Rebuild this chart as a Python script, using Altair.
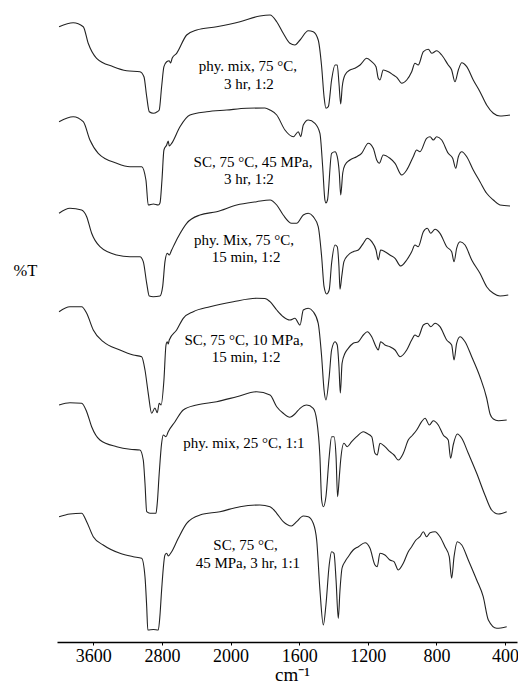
import altair as alt
import pandas as pd

# FTIR spectra: (wavenumber in cm-1, transmittance in arbitrary %T units)
S1 = [(4000, 100.3), (3835, 104.3), (3718, 100.3), (3660, 83.7), (3562, 68.7), (3368, 60.3),
      (3212, 56.3), (3057, 55.3), (3010, 50.3), (2978, 30.3), (2948, 15.3), (2902, 13.7),
      (2855, 15.3), (2832, 17), (2804, 40.3), (2777, 60.3), (2745, 65.3), (2715, 66.3),
      (2700, 64), (2680, 69), (2629, 73.7), (2512, 92), (2395, 97), (2162, 100.3),
      (1945, 105.3), (1829, 111), (1770, 112), (1731, 105.3), (1693, 93.7), (1654, 83.7),
      (1625, 82), (1595, 87), (1547, 96.3), (1518, 95.3), (1489, 87), (1469, 60.3),
      (1455, 30.3), (1444, 18.7), (1430, 20.3), (1411, 47), (1391, 62), (1378, 62),
      (1368, 43.7), (1358, 23), (1349, 40.3), (1333, 52), (1304, 57), (1275, 58.7),
      (1245, 62), (1206, 68.7), (1177, 65.3), (1152, 60.3), (1139, 48.7), (1129, 47),
      (1110, 57), (1080, 55.3), (1051, 52), (1031, 49.7), (1002, 43.7), (973, 47),
      (944, 55.3), (925, 63.7), (906, 62), (876, 75.3), (847, 77.7), (827, 73.7),
      (798, 76.3), (769, 72), (731, 62), (711, 57), (692, 45.3), (672, 57), (652, 64.3),
      (623, 60.3), (585, 47), (546, 35.3), (507, 22), (468, 13.7), (429, 11), (371, 12)]

S2 = [(4000, 95.3), (3835, 100.3), (3718, 95.3), (3640, 77), (3543, 63.7), (3328, 53.7),
      (3173, 50.3), (3037, 50.3), (2987, 37), (2960, 12), (2900, 13), (2843, 12), (2823, 14),
      (2800, 37), (2777, 67), (2745, 72), (2727, 76), (2715, 71), (2687, 73.7), (2590, 90.3),
      (2474, 102), (2279, 105.3), (2046, 107), (1906, 108.7), (1800, 109), (1770, 107),
      (1731, 102), (1683, 87), (1634, 80.3), (1605, 85.3), (1591, 80.3), (1576, 92),
      (1547, 97), (1508, 93.7), (1479, 83.7), (1463, 50.3), (1450, 17), (1444, 14),
      (1435, 17), (1411, 63.7), (1391, 65.3), (1378, 60.3), (1366, 43.7), (1358, 22),
      (1346, 44), (1333, 52), (1304, 57), (1265, 60.3), (1236, 63.7), (1197, 73.7),
      (1168, 68.7), (1148, 57), (1133, 53.7), (1110, 62), (1071, 58.7), (1041, 53.7),
      (1002, 42), (973, 47), (935, 60.3), (915, 67), (896, 65.3), (857, 78.7), (837, 80.3),
      (818, 77), (798, 80.3), (769, 77), (731, 63.7), (705, 58.7), (687, 48.7), (672, 60.3),
      (652, 65.3), (623, 60.3), (585, 47), (546, 35.3), (507, 23.7), (468, 17), (429, 12),
      (371, 11)]

S3 = [(4000, 93.7), (3873, 98.7), (3737, 97), (3678, 90.3), (3620, 73.7), (3523, 60.3),
      (3328, 52), (3173, 50.3), (3057, 50.3), (3018, 45.3), (2978, 23.7), (2948, 11),
      (2902, 10.3), (2823, 11), (2792, 20.3), (2765, 45.3), (2738, 53.7), (2715, 52),
      (2687, 57), (2610, 70.3), (2512, 83.7), (2357, 92), (2162, 95.3), (1964, 102),
      (1848, 105.3), (1770, 107), (1731, 102), (1693, 92), (1644, 83.7), (1615, 83.7),
      (1576, 92), (1547, 93.7), (1518, 90.3), (1489, 80.3), (1469, 50.3), (1455, 20.3),
      (1440, 13), (1425, 17), (1411, 43.7), (1391, 62), (1378, 60.3), (1368, 40.3),
      (1362, 17.7), (1352, 30.3), (1339, 45.3), (1314, 52), (1285, 55.3), (1255, 57),
      (1226, 63.7), (1203, 68.7), (1177, 65.3), (1152, 57), (1139, 47), (1125, 57),
      (1100, 55.3), (1071, 52), (1041, 48.7), (1008, 41), (973, 47), (944, 55.3), (925, 62),
      (906, 60.3), (876, 75.3), (853, 78.7), (833, 73.7), (808, 77.7), (779, 73.7),
      (740, 60.3), (711, 55.3), (697, 45.3), (682, 58.7), (662, 65.3), (633, 62), (594, 47),
      (546, 33.7), (507, 20.3), (468, 13.7), (429, 11), (381, 12)]

S4 = [(4000, 120.3), (3873, 125.3), (3737, 125.3), (3678, 118.7), (3601, 102), (3485, 90.3),
      (3290, 82), (3135, 77), (3037, 75.3), (2998, 62), (2960, 38.7), (2920, 18.7),
      (2882, 24), (2855, 19.3), (2832, 28.7), (2810, 27), (2777, 52), (2753, 87),
      (2738, 90.3), (2727, 88), (2715, 92), (2629, 102), (2552, 113.7), (2435, 120.3),
      (2240, 125.3), (1984, 130.3), (1848, 133.7), (1800, 133.5), (1770, 130.3), (1731, 122),
      (1693, 115.3), (1654, 112), (1625, 113.7), (1595, 107), (1576, 122), (1547, 123.7),
      (1518, 120.3), (1489, 108.7), (1469, 75.3), (1455, 42), (1444, 32), (1425, 55.3),
      (1411, 82), (1391, 90.3), (1378, 87), (1368, 65.3), (1360, 39), (1350, 68.7),
      (1333, 78.7), (1314, 83.7), (1285, 88.7), (1255, 90.3), (1226, 97), (1203, 100.3),
      (1177, 95.3), (1152, 85.3), (1139, 82), (1125, 90.3), (1100, 87), (1071, 85.3),
      (1041, 82), (1012, 75.3), (973, 82), (944, 92), (925, 97), (906, 95.3), (876, 107),
      (853, 108.7), (833, 105.3), (808, 108.7), (779, 105.3), (740, 92), (711, 87), (697, 72),
      (682, 88.7), (662, 95.3), (633, 90.3), (594, 75.3), (546, 55.3), (507, 34), (487, 18),
      (468, 13), (439, 11.3), (390, 12)]

S5 = [(4000, 122), (3873, 124.3), (3737, 123.7), (3678, 115.3), (3620, 100.3), (3523, 87),
      (3328, 80.3), (3173, 77.7), (3057, 77), (3018, 67), (2998, 43.7), (2978, 15.3),
      (2940, 13.7), (2870, 13.7), (2855, 23.7), (2832, 53.7), (2804, 83.7), (2785, 92),
      (2753, 90.3), (2727, 95.3), (2648, 105.3), (2552, 117), (2395, 122), (2162, 125.3),
      (1964, 130.3), (1848, 135.3), (1770, 132), (1731, 120.3), (1693, 113.7), (1654, 109.7),
      (1625, 113), (1595, 118.7), (1556, 122), (1518, 118.7), (1498, 107), (1479, 70.3),
      (1469, 27), (1459, 20.3), (1444, 30.3), (1425, 70.3), (1411, 90.3), (1397, 90.3),
      (1385, 70.3), (1376, 30.3), (1366, 50.3), (1358, 67), (1339, 83.7), (1320, 80.3),
      (1294, 85.3), (1265, 90.3), (1226, 95.3), (1206, 93.7), (1177, 90.3), (1158, 73.7),
      (1145, 72), (1129, 83.7), (1100, 80.3), (1071, 75.3), (1047, 72), (1022, 67),
      (993, 73.7), (964, 87), (938, 92), (915, 97), (886, 105.3), (866, 108.7), (841, 102),
      (818, 106.3), (789, 102), (760, 92), (731, 87), (717, 68.7), (702, 82), (678, 93),
      (652, 88.7), (614, 73.7), (565, 53.7), (517, 32), (478, 17), (439, 13), (390, 15.3)]

S6 = [(4000, 125.3), (3873, 128), (3737, 128.7), (3678, 120.3), (3601, 105.3), (3485, 97),
      (3290, 88.7), (3135, 85.3), (3037, 83.7), (2998, 65.3), (2978, 35.3), (2965, 12),
      (2900, 12.5), (2843, 12), (2823, 27), (2804, 52), (2765, 87), (2745, 88.7), (2727, 86),
      (2687, 90.3), (2610, 103.7), (2512, 118.7), (2357, 127), (2124, 130.3), (1945, 135.3),
      (1829, 137), (1770, 135.3), (1731, 128.7), (1693, 120.3), (1645, 116), (1615, 120.3),
      (1576, 126), (1547, 125.3), (1518, 118.7), (1498, 102), (1479, 52), (1459, 17),
      (1444, 37), (1425, 77), (1411, 90.3), (1397, 88.7), (1385, 62), (1372, 23.7),
      (1362, 52), (1350, 74), (1333, 80.3), (1314, 85.3), (1285, 92), (1255, 95.3),
      (1216, 99.3), (1187, 93.7), (1158, 77), (1145, 75.3), (1129, 88.7), (1100, 87),
      (1071, 82), (1047, 80.3), (1022, 72), (993, 78.7), (964, 90.3), (944, 95.3), (919, 102),
      (896, 105.3), (876, 110.3), (857, 105.3), (837, 109.3), (808, 110.3), (779, 105.3),
      (750, 95.3), (725, 85.3), (711, 63.7), (697, 85.3), (678, 100.3), (652, 97), (614, 82),
      (565, 62), (527, 45.3), (497, 22), (448, 13.7), (390, 15.3)]

SPECTRA = [S1, S2, S3, S4, S5, S6]
SAMPLES = ["phy-mix-75C-3h-1:2", "SC-75C-45MPa-3h-1:2", "phy-mix-75C-15min-1:2",
           "SC-75C-10MPa-15min-1:2", "phy-mix-25C-1:1", "SC-75C-45MPa-3h-1:1"]
# vertical stacking offsets (same %T units)
OFFSETS = [515, 425, 335, 210, 115, 0]

# sample annotations: text, wavenumber of the text centre, stacked %T of the text centre
LABEL_TEXT = ["phy. mix, 75 °C,", "3 hr, 1:2",
              "SC, 75 °C, 45 MPa,", "3 hr, 1:2",
              "phy. Mix, 75 °C,", "15 min, 1:2",
              "SC, 75 °C, 10 MPa,", "15 min, 1:2",
              "phy. mix, 25 °C, 1:1",
              "SC, 75 °C,", "45 MPa, 3 hr, 1:1"]
LABEL_WN = [1899, 1893, 1869, 1893, 1922, 1910, 1922, 1910, 1922, 1913, 1899]
LABEL_T = [576, 558.5, 480, 463.5, 402, 385, 302, 285, 199, 97, 79]

# axis: above 2000 cm-1 the scale is compressed by a factor of two
TICK_WN = [400, 600, 800, 1000, 1200, 1400, 1600, 1800, 2000, 2400, 2800, 3200, 3600]
LABELLED_WN = [400, 800, 1200, 1600, 2000, 2800, 3600]
BREAK = 2000


def to_pos(w):
    return w if w <= BREAK else BREAK + (w - BREAK) / 2


rows = []
for name, pts, off in zip(SAMPLES, SPECTRA, OFFSETS):
    for wn, t in pts:
        rows.append({"sample": name, "wavenumber": wn, "T": t, "offset": off})
spec_df = pd.DataFrame(rows)
label_df = pd.DataFrame({"text": LABEL_TEXT, "wavenumber": LABEL_WN, "y": LABEL_T})

pos_expr = f"datum.wavenumber > {BREAK} ? {BREAK} + (datum.wavenumber - {BREAK}) / 2 : datum.wavenumber"
tick_pos = [to_pos(w) for w in TICK_WN]
label_expr = " : ".join(f"datum.value == {to_pos(w)} ? '{w}'" for w in LABELLED_WN) + " : ''"

FONT = "Liberation Serif"

x_scale = alt.Scale(domain=[330, 3012], reverse=True, nice=False, zero=False)
y_scale = alt.Scale(domain=[0, 637], nice=False, zero=False)

x_axis = alt.Axis(values=tick_pos, labelExpr=label_expr, title="cm⁻¹", grid=False,
                  domainColor="black", domainWidth=1.3, tickColor="black", tickSize=3,
                  tickWidth=1, labelFont=FONT, labelFontSize=18, labelColor="black",
                  labelPadding=2, labelFlush=False, labelOverlap=False,
                  titleFont=FONT, titleFontSize=19, titleFontWeight="normal",
                  titleColor="black", titleX=235, titleY=38, titleBaseline="alphabetic",
                  titleAlign="center")
y_axis = alt.Axis(title="%T", labels=False, ticks=False, domain=False, grid=False,
                  titleAngle=0, titleX=-32, titleY=265, titleFont=FONT, titleFontSize=16.5,
                  titleFontWeight="normal", titleColor="black", titleAlign="center",
                  titleBaseline="middle")

lines = alt.Chart(spec_df).transform_calculate(
    pos=pos_expr, y="datum.T + datum.offset"
).mark_line(color="#222222", strokeWidth=1.1, interpolate="monotone").encode(
    x=alt.X("pos:Q", scale=x_scale, axis=x_axis),
    y=alt.Y("y:Q", scale=y_scale, axis=y_axis),
    detail="sample:N",
)

labels = alt.Chart(label_df).transform_calculate(
    pos=pos_expr
).mark_text(font=FONT, fontSize=15, color="black", align="center", baseline="middle").encode(
    x=alt.X("pos:Q", scale=x_scale),
    y=alt.Y("y:Q", scale=y_scale),
    text="text:N",
)

chart = alt.layer(lines, labels).properties(
    width=460,
    height=637,
    autosize=alt.AutoSizeParams(type="none"),
    padding={"left": 57, "top": 5, "right": 1, "bottom": 44},
    background="white",
).configure_view(stroke=None)

chart.save("out.html", embed_options={"renderer": "svg", "actions": False})
